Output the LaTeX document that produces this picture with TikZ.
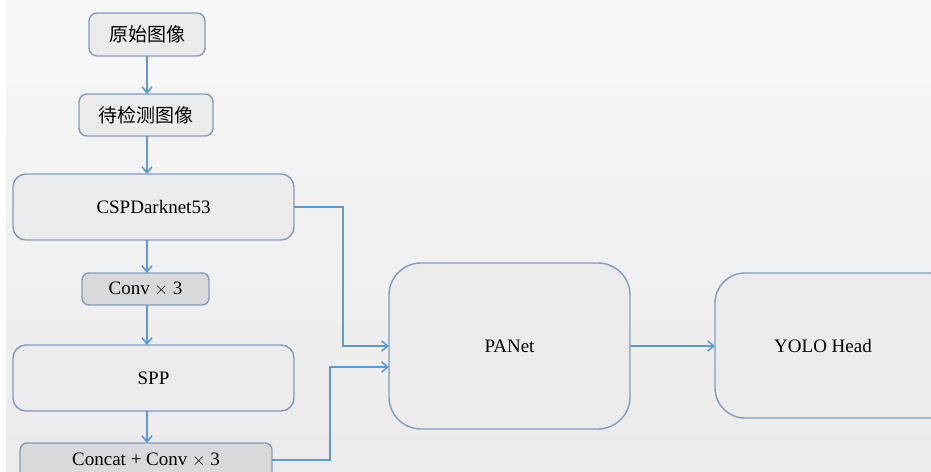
\documentclass[tikz,border=0pt]{standalone}
\usepackage{fontspec}
\setmainfont{Liberation Serif}
\newfontfamily\cjk{Noto Sans CJK SC}
\usetikzlibrary{arrows.meta,calc}
\definecolor{bordc}{HTML}{7F9CC0}
\definecolor{arrc}{HTML}{5B9BD5}
\definecolor{boxfill}{HTML}{EBEBEB}
\definecolor{darkfill}{HTML}{D9D9D9}
\tikzset{
  blk/.style={draw=bordc, line width=1.4pt, fill=boxfill, rounded corners=#1, font=\fontsize{19}{22}\selectfont},
  blk/.default=8pt,
  arr/.style={draw=arrc, line width=1.6pt, -{Straight Barb[length=6pt,width=10pt]}},
}
\begin{document}
\begin{tikzpicture}[x=1pt,y=-1pt]
\useasboundingbox (0,0) rectangle (931,471);
\clip (0,0) rectangle (931,471);
\fill[white] (0,0) rectangle (931,471);
\fill[color=white!97!black] (6,0) rectangle (931,85);
\shade[top color=white!96!black, bottom color=white!92!black] (6,85) rectangle (931,471);
% boxes
\path[blk=8pt] (89,13) rectangle (205,56);
\node (orig) at (147,34.5) {\fontsize{19}{22}\selectfont\cjk 原始图像};
\coordinate (origS) at (147,56);
\path[blk=8pt] (79,94) rectangle (213,136);
\node (det) at (146,115) {\fontsize{19}{22}\selectfont\cjk 待检测图像};
\coordinate (detN) at (147,94);
\coordinate (detS) at (147,136);
\path[blk=13pt] (13,174) rectangle (294,240);
\node (csp) at (153.5,207) {\fontsize{19}{22}\selectfont CSPDarknet53};
\coordinate (cspN) at (147,174);
\coordinate (cspS) at (147,240);
\coordinate (cspE) at (294,207);
\path[blk=7pt, fill=darkfill] (82,273) rectangle (209,305);
\node (conv) at (145.5,289) {\fontsize{19}{22}\selectfont Conv $\times$ 3};
\coordinate (convN) at (147,273);
\coordinate (convS) at (147,305);
\path[blk=13pt] (13,345) rectangle (294,411);
\node (spp) at (153.5,378) {\fontsize{19}{22}\selectfont SPP};
\coordinate (sppN) at (147,345);
\coordinate (sppS) at (147,411);
\path[blk=7pt, fill=darkfill] (20,443) rectangle (272,480);
\node (cat) at (146,460) {\fontsize{19}{22}\selectfont Concat + Conv $\times$ 3};
\coordinate (catN) at (147,443);
\coordinate (catE) at (272,460);
\path[blk=32pt] (389,263) rectangle (630,429);
\node (pan) at (509.5,346) {\fontsize{19}{22}\selectfont PANet};
\coordinate (panW1) at (389,346);
\coordinate (panW2) at (389,367);
\coordinate (panE) at (630,346);
\path[blk=30pt] (715,273) rectangle (960,418);
\node (yolo) at (823,346) {\fontsize{19}{22}\selectfont YOLO Head};
\coordinate (yoloW) at (715,346);
% connectors
\draw[arr] (origS) -- (detN);
\draw[arr] (detS) -- (cspN);
\draw[arr] (cspS) -- (convN);
\draw[arr] (convS) -- (sppN);
\draw[arr] (sppS) -- (catN);
\draw[arr] (cspE) -- (343,207) -- (343,346) -- (panW1);
\draw[arr] (catE) -- (330,460) -- (330,367) -- (panW2);
\draw[arr] (panE) -- (yoloW);
\end{tikzpicture}
\end{document}
